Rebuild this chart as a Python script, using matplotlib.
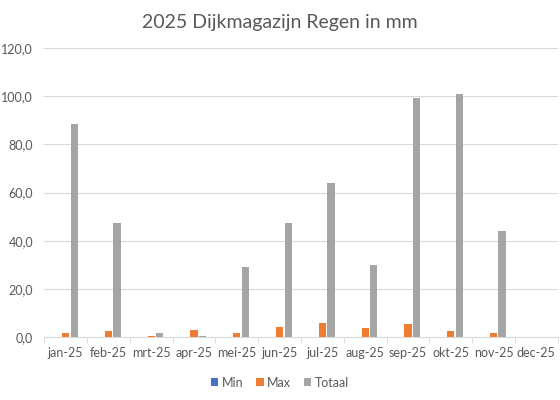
import matplotlib
matplotlib.use("Agg")
from matplotlib import pyplot as plt
import numpy as np

months = ["jan-25", "feb-25", "mrt-25", "apr-25", "mei-25", "jun-25",
          "jul-25", "aug-25", "sep-25", "okt-25", "nov-25", "dec-25"]
min_vals = [0, 0, 0, 0, 0, 0, 0, 0, 0, 0, 0, 0]
max_vals = [1.5, 2.3, 0.6, 3.0, 1.6, 4.0, 6.0, 3.6, 5.6, 2.5, 1.5, 0]
totaal_vals = [88.5, 47.5, 1.6, 0.6, 29.0, 47.2, 64.0, 30.0, 99.2, 101.0, 44.0, 0]

plt.rcParams["font.family"] = ["Lato", "DejaVu Sans"]

fig = plt.figure(figsize=(5.6, 4), dpi=100)
ax = fig.add_axes([0.079, 0.1575, 0.917, 0.7225])

x = np.arange(len(months))
w = 0.2
ax.bar(x - w, min_vals, width=w * 0.85, color="#4472C4", label="Min", zorder=3)
ax.bar(x, max_vals, width=w * 0.85, color="#ED7D31", label="Max", zorder=3)
ax.bar(x + w, totaal_vals, width=w * 0.85, color="#A5A5A5", label="Totaal", zorder=3)

ax.set_xlim(-0.5, len(months) - 0.5)
ax.set_ylim(0, 120)
ax.set_yticks(np.arange(0, 121, 20))
ax.set_yticklabels([f"{v:.1f}".replace(".", ",") for v in np.arange(0, 121, 20)])
ax.yaxis.grid(True, color="#D9D9D9", linewidth=0.8, zorder=0)
ax.set_xticks(x)
ax.set_xticklabels(months)
ax.set_xticks(np.arange(-0.5, len(months), 1), minor=True)
ax.tick_params(axis="x", which="major", length=0, labelsize=9, colors="#595959", pad=7)
ax.tick_params(axis="x", which="minor", length=4, color="#D9D9D9")
ax.tick_params(axis="y", length=0, labelsize=9, colors="#595959", pad=8)
for side in ["top", "right", "left"]:
    ax.spines[side].set_visible(False)
ax.spines["bottom"].set_color("#D9D9D9")

fig.suptitle("2025 Dijkmagazijn Regen in mm", y=0.965, fontsize=14, color="#595959")
fig.legend(loc="lower center", bbox_to_anchor=(0.5, 0.0), ncol=3, frameon=False,
           fontsize=9, handlelength=0.6, handleheight=0.6, handletextpad=0.3,
           columnspacing=1.0, labelcolor="#595959")

plt.savefig("out.png", dpi=100)
